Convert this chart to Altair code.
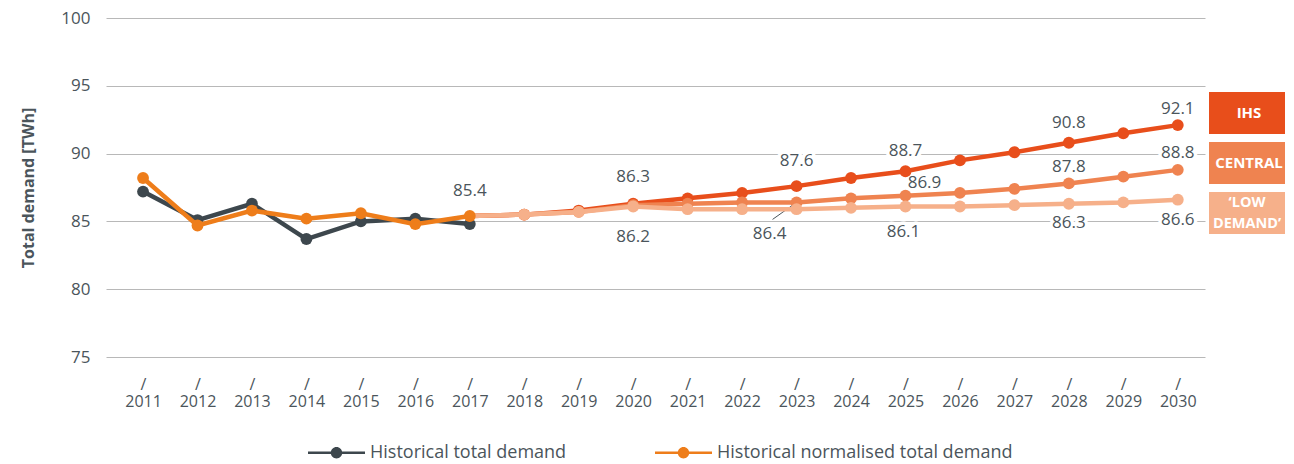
import altair as alt
import pandas as pd

# ---------------- data ----------------
years_hist = [2011, 2012, 2013, 2014, 2015, 2016, 2017]
hist_total = [87.2, 85.1, 86.3, 83.7, 85.0, 85.2, 84.8]
hist_norm = [88.2, 84.7, 85.8, 85.2, 85.6, 84.8, 85.4]

years_fc = [2017, 2018, 2019, 2020, 2021, 2022, 2023, 2024, 2025, 2026, 2027, 2028, 2029, 2030]
fc_ihs = [85.4, 85.5, 85.8, 86.3, 86.7, 87.1, 87.6, 88.2, 88.7, 89.5, 90.1, 90.8, 91.5, 92.1]
fc_central = [85.4, 85.5, 85.7, 86.2, 86.3, 86.4, 86.4, 86.7, 86.9, 87.1, 87.4, 87.8, 88.3, 88.8]
fc_low = [85.4, 85.5, 85.7, 86.1, 85.9, 85.9, 85.9, 86.0, 86.1, 86.1, 86.2, 86.3, 86.4, 86.6]

hist_names = ["Historical total demand", "Historical normalised total demand"]
fc_names = ["IHS", "Central", "Low demand"]
box_labels = ["IHS", "CENTRAL", "\u2018LOW\nDEMAND\u2019"]
y_ticks = [75, 80, 85, 90, 95, 100]
x_ticks = list(range(2011, 2031))

# annotation anchors: (series, year) + pixel offsets (dx, dy)
annots = [
    ("Historical normalised total demand", 2017, 0, -25),
    ("IHS", 2020, 0, -27),
    ("Central", 2020, 0, 32),
    ("IHS", 2023, 0, -25),
    ("Central", 2023, -27, 32),
    ("IHS", 2025, 0, -20),
    ("Central", 2025, 19, -13),
    ("Low demand", 2025, -2, 26),
    ("IHS", 2028, 0, -20),
    ("Central", 2028, 0, -16),
    ("Low demand", 2028, 0, 19),
    ("IHS", 2030, 0, -16),
    ("Central", 2030, 0, -17),
    ("Low demand", 2030, 0, 20),
]
leader = ("Central", 2023)

# ---------------- styles ----------------
FONT = "Open Sans"
TEXT = "#4b555b"
GRID = "#b8b8b8"
hist_colors = ["#3d474d", "#ee7d1a"]
fc_colors = {"IHS": "#e84e1b", "Central": "#ef8350", "Low demand": "#f6b08a"}
box_colors = ["#e84e1b", "#ef8350", "#f6b08a"]

W, H = 1099, 339
RW, RH = 76, 216

hist_df = pd.DataFrame({
    "year": years_hist * 2,
    "value": hist_total + hist_norm,
    "series": [hist_names[0]] * len(years_hist) + [hist_names[1]] * len(years_hist),
})
fc_df = pd.DataFrame({
    "year": years_fc * 3,
    "value": fc_ihs + fc_central + fc_low,
    "series": sum([[n] * len(years_fc) for n in fc_names], []),
})
all_df = pd.concat([hist_df, fc_df], ignore_index=True)

xs = alt.Scale(domain=[2010.32, 2030.5], nice=False, zero=False)
ys = alt.Scale(domain=[75, 100], nice=False, zero=False)

x_axis = alt.Axis(values=x_ticks, format="d", labelExpr="['/', datum.label]",
                  grid=False, domain=False, ticks=False, labelPadding=19,
                  labelFontSize=16, labelColor=TEXT, labelLineHeight=17,
                  labelFlush=False, labelOverlap=False, title=None, labelFont=FONT)
y_axis = alt.Axis(values=y_ticks, grid=True, gridColor=GRID, gridWidth=1,
                  domain=False, ticks=False, labelPadding=16, labelFontSize=17,
                  labelColor=TEXT, labelFont=FONT, title="Total demand [TWh]",
                  titleFontSize=16, titleFontWeight="bold", titleColor=TEXT,
                  titleFont=FONT, titlePadding=24)

X = alt.X("year:Q", scale=xs, axis=x_axis)
Y = alt.Y("value:Q", scale=ys, axis=y_axis)

SYM = ("M-3,-0.12L3,-0.12L3,0.12L-3,0.12Z "
       "M-0.6,0A0.6,0.6,0,1,1,0.6,0A0.6,0.6,0,1,1,-0.6,0Z")
legend = alt.Legend(title=None, orient="none", legendX=221, legendY=425,
                    direction="horizontal", symbolType=SYM, symbolSize=361,
                    symbolStrokeWidth=0, symbolOpacity=1, labelOffset=24,
                    labelFontSize=18, labelColor=TEXT, labelFont=FONT,
                    labelLimit=500, columnPadding=88)

layers = []

# annotation halos (white) to break gridlines
for s, yr, dx, dy in annots:
    d = all_df[(all_df.series == s) & (all_df.year == yr)].head(1)
    layers.append(alt.Chart(d).mark_text(dx=dx, dy=dy, fontSize=17, font=FONT,
                                         color="white", stroke="white",
                                         strokeWidth=7, strokeJoin="round",
                                         baseline="middle")
                  .encode(x=X, y=Y, text=alt.Text("value:Q", format=".1f")))

# leader line
ld = all_df[(all_df.series == leader[0]) & (all_df.year == leader[1])]
layers.append(alt.Chart(ld).mark_rule(color=TEXT, strokeWidth=1, x2Offset=-24, y2Offset=17)
              .encode(x=X, y=Y, x2="year:Q", y2="value:Q"))

# forecast lines
for n in fc_names:
    d = fc_df[fc_df.series == n]
    layers.append(alt.Chart(d).mark_line(color=fc_colors[n], strokeWidth=4.5)
                  .encode(x=X, y=Y))
    layers.append(alt.Chart(d[d.year > 2017]).mark_circle(color=fc_colors[n], size=140, opacity=1)
                  .encode(x=X, y=Y))

# historical lines
for n in hist_names:
    d = hist_df[hist_df.series == n]
    layers.append(alt.Chart(d).mark_line(strokeWidth=4.5)
                  .encode(x=X, y=Y,
                          stroke=alt.Stroke("series:N", scale=alt.Scale(domain=hist_names, range=hist_colors),
                                            legend=None)))
    layers.append(alt.Chart(d).mark_circle(size=140, opacity=1)
                  .encode(x=X, y=Y,
                          color=alt.Color("series:N", scale=alt.Scale(domain=hist_names, range=hist_colors),
                                          legend=legend)))

# annotation texts
for s, yr, dx, dy in annots:
    d = all_df[(all_df.series == s) & (all_df.year == yr)].head(1)
    layers.append(alt.Chart(d).mark_text(dx=dx, dy=dy, fontSize=17, font=FONT,
                                         color=TEXT, baseline="middle")
                  .encode(x=X, y=Y, text=alt.Text("value:Q", format=".1f")))

main = alt.layer(*layers).properties(width=W, height=H, view=alt.ViewBackground(stroke=None))

box_df = pd.DataFrame({"name": box_labels})
BY = alt.Y("name:N", sort=box_labels,
           scale=alt.Scale(domain=box_labels, paddingInner=0.16, paddingOuter=0.74, align=1),
           axis=None)
boxes = alt.Chart(box_df).mark_rect(strokeWidth=0).encode(
    y=BY, x=alt.value(0), x2=alt.value(RW),
    fill=alt.Fill("name:N", scale=alt.Scale(domain=box_labels, range=box_colors), legend=None))
box_text1 = alt.Chart(box_df).transform_filter("indexof(datum.name, '\\n') < 0").mark_text(
    color="white", fontWeight="bold", fontSize=15, font=FONT, baseline="middle").encode(
    y=BY, x=alt.value(RW / 2 + 2), text="name:N")
box_text2 = alt.Chart(box_df).transform_filter("indexof(datum.name, '\\n') >= 0").mark_text(
    color="white", fontWeight="bold", fontSize=14.5, font=FONT, baseline="middle",
    lineBreak="\n", lineHeight=21, dy=-10.5).encode(
    y=BY, x=alt.value(RW / 2), text="name:N")
right = alt.layer(boxes, box_text1, box_text2).properties(
    width=RW, height=RH, view=alt.ViewBackground(stroke=None))

chart = alt.hconcat(main, right, spacing=4, bounds="flush").resolve_scale(
    color="independent", fill="independent", y="independent", x="independent"
).properties(padding={"left": 12, "top": 1, "right": 0, "bottom": 0}
).configure_view(stroke=None).configure(font=FONT)

chart.save("out.html", embed_options={"renderer": "svg", "actions": False})
